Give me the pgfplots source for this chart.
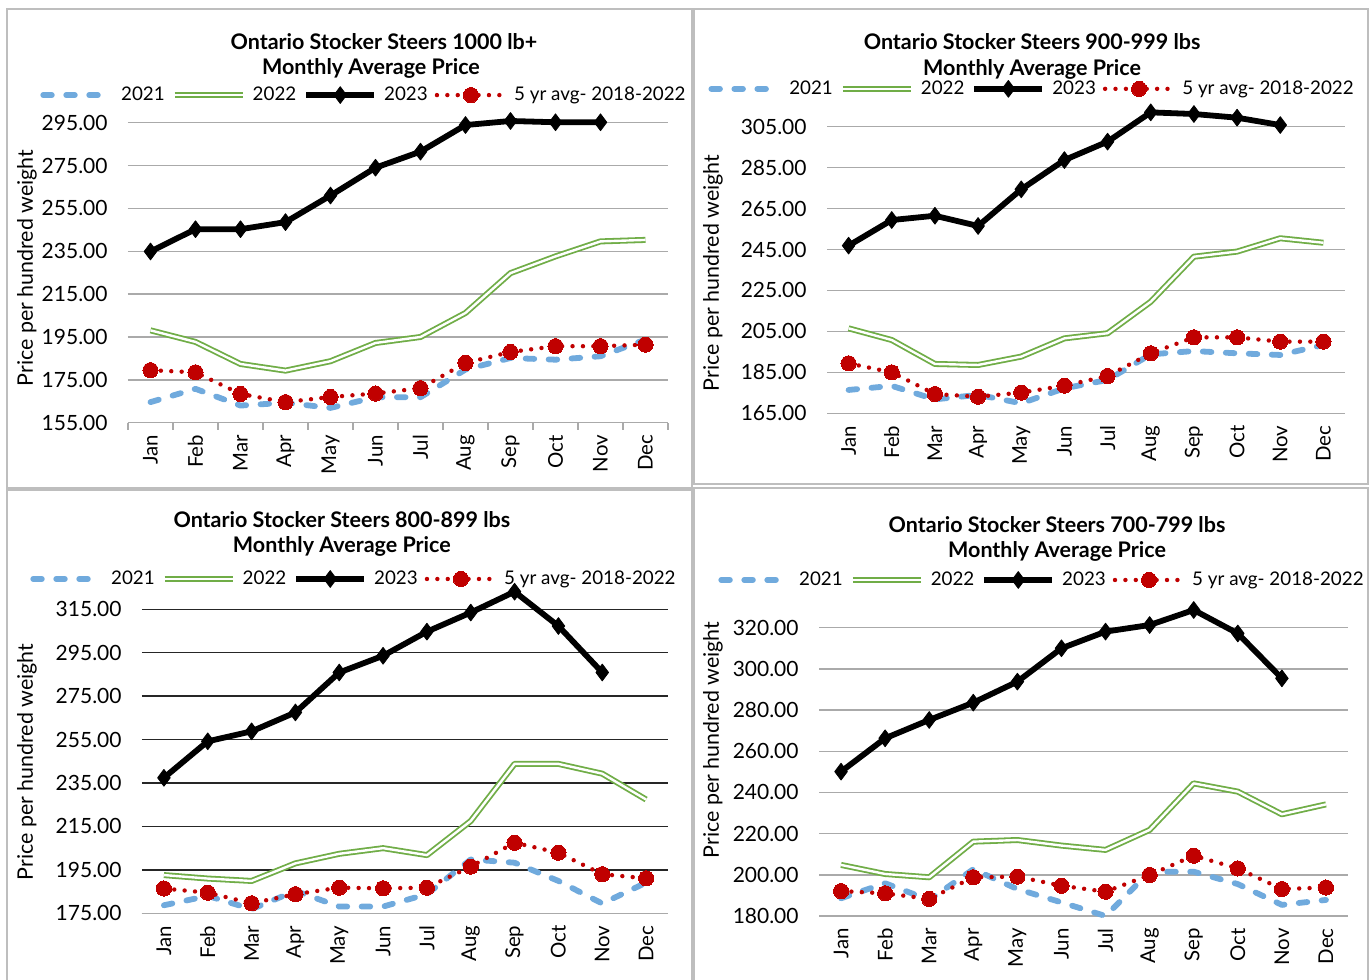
\documentclass[border=0pt]{standalone}
\usepackage{pgfplots}
\usepackage{pgfplotstable}
\pgfplotsset{compat=1.18}
\usepackage{fontspec}
\setmainfont{Lato}
\definecolor{c21}{RGB}{112,170,221}
\definecolor{c22}{RGB}{112,173,71}
\definecolor{c5}{RGB}{192,0,0}
\definecolor{gridgray}{RGB}{170,170,170}
\definecolor{framegray}{RGB}{190,190,190}

\pgfplotstableread{
m a21 a22 a23 a5
1 164.6 198.1 234.9 179.5
2 170.8 192.7 245.3 178.5
3 163.0 182.4 245.3 168.4
4 164.3 179.3 248.6 164.6
5 161.9 183.7 261.0 167.0
6 166.9 192.2 274.0 168.6
7 166.9 195.0 281.5 171.1
8 179.8 206.2 293.9 182.9
9 185.2 224.8 295.8 188.0
10 184.4 232.6 295.2 190.7
11 186.0 239.6 295.2 190.7
12 193.8 240.3 nan 191.4
}\dA

\pgfplotstableread{
m a21 a22 a23 a5
1 176.4 206.5 246.9 189.4
2 178.4 200.8 259.4 185.0
3 171.8 189.1 261.5 174.4
4 174.0 188.6 256.5 173.1
5 169.9 192.7 274.4 175.1
6 177.2 201.6 288.7 178.5
7 181.3 204.1 297.7 183.2
8 193.8 219.5 312.0 194.3
9 195.4 241.5 311.2 202.1
10 194.3 244.0 309.4 202.1
11 193.5 250.5 305.8 200.0
12 198.4 248.3 nan 200.0
}\dB

\pgfplotstableread{
m a21 a22 a23 a5
1 178.7 192.6 237.4 186.4
2 183.0 191.0 254.2 184.5
3 176.9 189.9 258.8 179.6
4 185.3 198.0 267.5 183.8
5 178.1 202.4 285.9 186.8
6 178.1 205.0 293.6 186.5
7 183.8 201.8 304.7 186.8
8 199.8 217.5 313.5 196.5
9 198.3 243.8 323.1 207.5
10 189.9 243.8 307.3 202.9
11 179.5 239.3 285.9 193.0
12 189.1 227.4 nan 191.1
}\dC

\pgfplotstableread{
m a21 a22 a23 a5
1 188.6 204.8 250.1 192.1
2 195.9 200.4 266.3 191.0
3 187.8 198.8 275.2 188.3
4 202.7 216.1 283.6 198.8
5 193.1 216.9 293.8 199.1
6 186.6 214.2 310.0 194.7
7 180.0 212.1 318.1 191.8
8 201.5 221.8 321.3 199.9
9 201.5 244.4 328.6 209.3
10 195.5 240.4 317.2 203.1
11 185.4 229.4 295.4 193.1
12 187.8 234.2 nan 193.8
}\dD

\pgfplotsset{
  base/.style={
    scale only axis, anchor=south west,
    xmin=0.5, xmax=12.5, xtick={1,...,12},
    xticklabels={Jan,Feb,Mar,Apr,May,Jun,Jul,Aug,Sep,Oct,Nov,Dec},
    axis x line*=bottom, axis y line*=left,
    y axis line style={draw=none},
    x axis line style={draw=gridgray, line width=0.75pt},
    major tick length=0pt,
    ymajorgrids, grid style={draw=gridgray, line width=0.75pt},
    clip=false,
    tick label style={font=\fontsize{10.5}{12}\selectfont},
    xticklabel style={rotate=90, anchor=east, inner sep=0pt, font=\fontsize{10.2}{12}\selectfont},
    xticklabel shift=6pt,
    yticklabel style={anchor=east, inner sep=0pt,
      /pgf/number format/.cd, fixed, fixed zerofill, precision=2, assume math mode=true},
    yticklabel shift=10pt,
    legend columns=4,
    legend style={draw=none, fill=none, anchor=center, inner sep=0pt,
      font=\fontsize{9.4}{11}\selectfont,
      nodes={inner sep=1pt},
      /tikz/every odd column/.append style={column sep=2.5pt},
      /tikz/every even column/.append style={column sep=2.5pt}},
    legend image code/.code={\draw[mark repeat=2,mark phase=2,##1] plot coordinates {(0pt,0pt) (17pt,0pt) (34pt,0pt)};},
  },
  s21/.style={color=c21, line width=2.9pt, line cap=round, line join=round, dash pattern=on 4.3pt off 7.2pt, no markers},
  s22/.style={color=c22, line width=0.9pt, double=white, double distance=1.2pt, line join=round, no markers},
  s23/.style={color=black, line width=2.9pt, line join=round, mark=diamond*, mark size=4.2pt, mark options={solid, fill=black, line width=0.4pt}},
  s5/.style={color=c5, line width=2.2pt, line cap=round, dash pattern=on 0pt off 5.2pt, mark=*, mark size=3.8pt, mark options={solid, fill=c5, draw=c5, line width=0pt}},
}

\newcommand{\titlefont}{\bfseries\fontsize{10.75}{12}\selectfont}
\newcommand{\labfont}{\fontsize{10.7}{12}\selectfont}

\begin{document}
\begin{tikzpicture}
\useasboundingbox (0,0) rectangle (686pt,490pt);
\fill[white] (0,0) rectangle (686pt,490pt);
% frames
\draw[framegray, line width=1pt] (3.5pt,246pt) rectangle (346pt,485.5pt);
\draw[framegray, line width=1pt] (347pt,248pt) rectangle (684pt,485.5pt);
\draw[framegray, line width=1pt] (3.5pt,-3pt) -- (3.5pt,245pt) -- (346pt,245pt) -- (346pt,-3pt);
\draw[framegray, line width=1pt] (347pt,-3pt) -- (347pt,246pt) -- (684pt,246pt) -- (684pt,-3pt);

% Panel 1
\begin{axis}[base, at={(64pt,278.65pt)}, width=270pt, height=150pt,
  ymin=155, ymax=295, ytick={155,175,...,295},
  extra x ticks={0.5,1.5,...,12.5}, extra x tick labels={},
  extra x tick style={major tick length=3.5pt, tick align=outside, tick style={draw=gridgray, line width=0.75pt}},
  legend style={at={(axis description cs:0.437,1.092)}}]
\addplot[s21] table[x=m,y=a21]{\dA}; \addlegendentry{2021}
\addplot[s22] table[x=m,y=a22]{\dA}; \addlegendentry{2022}
\addplot[s23] table[x=m,y=a23]{\dA}; \addlegendentry{2023}
\addplot[s5] table[x=m,y=a5]{\dA}; \addlegendentry{5 yr avg- 2018-2022}
\node[font=\titlefont] at (axis description cs:0.474,1.269) {Ontario Stocker Steers 1000 lb+};
\node[font=\titlefont] at (axis description cs:0.450,1.182) {Monthly Average Price};
\node[font=\labfont, rotate=90] at (axis description cs:-0.187,0.516) {Price per hundred weight};
\end{axis}

% Panel 2
\begin{axis}[base, at={(413.5pt,283.35pt)}, width=259pt, height=143.3pt,
  ymin=165, ymax=305, ytick={165,185,...,305},
  legend style={at={(axis description cs:0.396,1.132)}}]
\addplot[s21] table[x=m,y=a21]{\dB}; \addlegendentry{2021}
\addplot[s22] table[x=m,y=a22]{\dB}; \addlegendentry{2022}
\addplot[s23] table[x=m,y=a23]{\dB}; \addlegendentry{2023}
\addplot[s5] table[x=m,y=a5]{\dB}; \addlegendentry{5 yr avg- 2018-2022}
\node[font=\titlefont] at (axis description cs:0.396,1.2955) {Ontario Stocker Steers 900-999 lbs};
\node[font=\titlefont] at (axis description cs:0.396,1.2013) {Monthly Average Price};
\node[font=\labfont, rotate=90] at (axis description cs:-0.220,0.4895) {Price per hundred weight};
\end{axis}

% Panel 3
\begin{axis}[base, at={(71pt,33.35pt)}, width=263pt, height=152pt,
  ymin=175, ymax=315, ytick={175,195,...,315},
  grid style={draw=black!85, line width=0.75pt},
  legend style={at={(axis description cs:0.403,1.0997)}}]
\addplot[s21] table[x=m,y=a21]{\dC}; \addlegendentry{2021}
\addplot[s22] table[x=m,y=a22]{\dC}; \addlegendentry{2022}
\addplot[s23] table[x=m,y=a23]{\dC}; \addlegendentry{2023}
\addplot[s5] table[x=m,y=a5]{\dC}; \addlegendentry{5 yr avg- 2018-2022}
\node[font=\titlefont] at (axis description cs:0.380,1.2938) {Ontario Stocker Steers 800-899 lbs};
\node[font=\titlefont] at (axis description cs:0.380,1.2082) {Monthly Average Price};
\node[font=\labfont, rotate=90] at (axis description cs:-0.2186,0.4977) {Price per hundred weight};
\end{axis}

% Panel 4
\begin{axis}[base, at={(409.5pt,32pt)}, width=264.5pt, height=144.15pt,
  ymin=180, ymax=320, ytick={180,200,...,320},
  legend style={at={(axis description cs:0.4216,1.1655)}}]
\addplot[s21] table[x=m,y=a21]{\dD}; \addlegendentry{2021}
\addplot[s22] table[x=m,y=a22]{\dD}; \addlegendentry{2022}
\addplot[s23] table[x=m,y=a23]{\dD}; \addlegendentry{2023}
\addplot[s5] table[x=m,y=a5]{\dD}; \addlegendentry{5 yr avg- 2018-2022}
\node[font=\titlefont] at (axis description cs:0.45,1.3562) {Ontario Stocker Steers 700-799 lbs};
\node[font=\titlefont] at (axis description cs:0.45,1.266) {Monthly Average Price};
\node[font=\labfont, rotate=90] at (axis description cs:-0.2004,0.6105) {Price per hundred weight};
\end{axis}
\end{tikzpicture}
\end{document}
